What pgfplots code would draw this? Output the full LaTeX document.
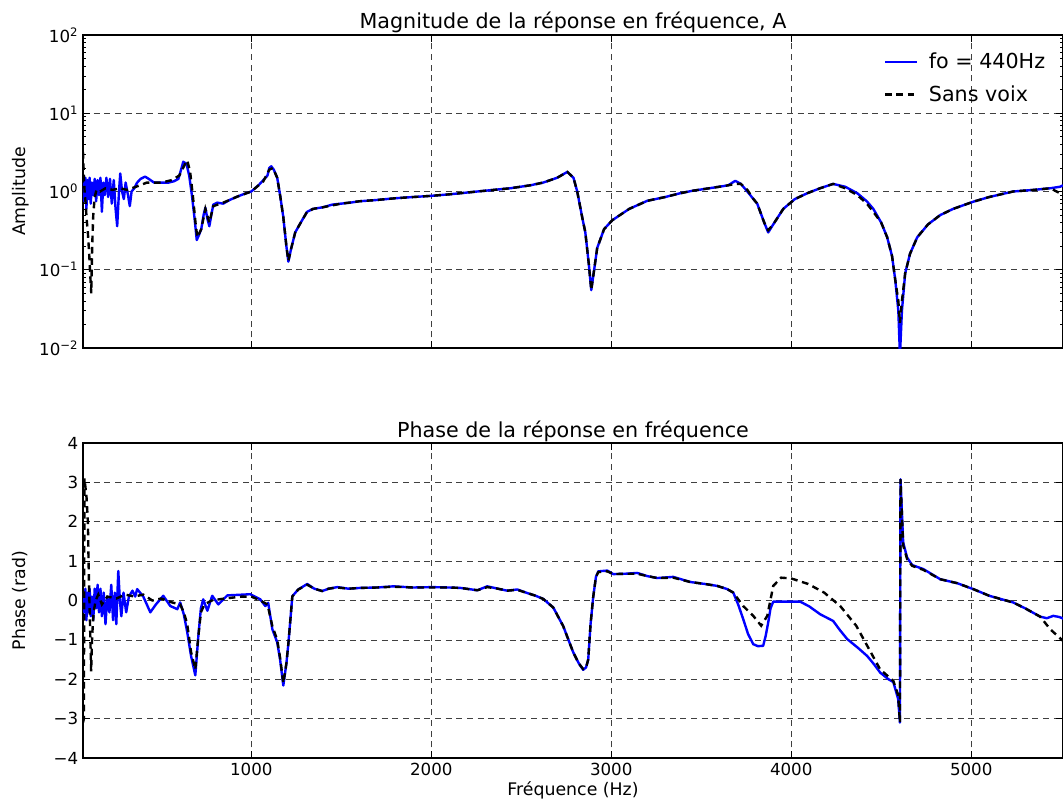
\documentclass[border=0pt]{standalone}
\usepackage{fontspec}
\setmainfont{DejaVu Sans}
\usepackage{pgfplots}
\pgfplotsset{compat=1.18}

% frequency response, blue = fo 440 Hz, black dashed = unvoiced
\pgfplotstableread{
f A
65 1.3
72 0.75
78 1.5
84 0.6
90 1.4
96 0.8
102 1.5
108 0.7
115 1.3
122 0.9
130 1.45
138 0.75
146 1.4
154 0.9
162 1.5
170 0.55
178 1.3
186 0.9
195 1.5
205 0.85
215 1.45
225 0.7
236 1.4
246 0.6
255 0.36
265 1.0
272 1.7
282 1.0
292 0.8
302 1.3
315 0.9
325 0.65
335 1.0
350 1.1
366 1.3
385 1.45
410 1.55
430 1.45
460 1.3
500 1.3
540 1.3
570 1.35
595 1.45
610 1.9
622 2.4
640 2.25
655 1.6
670 0.9
685 0.45
697 0.24
710 0.28
722 0.33
735 0.5
745 0.62
756 0.45
767 0.36
778 0.5
789 0.68
810 0.72
844 0.7
880 0.78
922 0.86
960 0.93
1000 1.0
1040 1.2
1067 1.4
1090 1.6
1100 2.0
1111 2.1
1125 1.9
1144 1.5
1160 0.9
1178 0.47
1195 0.2
1206 0.127
1220 0.18
1244 0.3
1280 0.42
1310 0.55
1344 0.6
1400 0.63
1450 0.68
1500 0.7
1550 0.72
1600 0.75
1700 0.78
1800 0.82
1900 0.85
2000 0.88
2100 0.92
2200 0.97
2256 1.0
2350 1.05
2439 1.1
2550 1.2
2622 1.3
2700 1.5
2756 1.78
2790 1.5
2811 1.0
2840 0.45
2856 0.3
2875 0.12
2889 0.055
2905 0.1
2922 0.19
2960 0.33
3006 0.43
3100 0.6
3200 0.76
3300 0.85
3383 0.95
3450 1.02
3533 1.09
3600 1.15
3650 1.2
3689 1.37
3720 1.25
3756 1.0
3790 0.8
3811 0.7
3850 0.4
3872 0.3
3900 0.38
3956 0.6
4020 0.8
4089 0.95
4160 1.1
4233 1.25
4300 1.15
4367 0.95
4420 0.75
4456 0.6
4500 0.4
4533 0.26
4560 0.15
4578 0.074
4595 0.03
4604 0.008
4615 0.03
4633 0.09
4660 0.16
4700 0.26
4760 0.38
4828 0.5
4900 0.6
5011 0.74
5100 0.85
5233 1.0
5350 1.05
5439 1.1
5494 1.15
5510 1.2
}\magvoix

\pgfplotstableread{
f A
65 3.2
70 1.5
75 0.9
80 0.7
85 0.45
92 0.3
100 0.15
106 0.08
111 0.05
116 0.2
122 0.5
130 0.85
140 1.05
160 1.0
190 1.1
230 1.05
270 1.1
310 1.05
360 1.15
420 1.3
500 1.3
560 1.4
600 1.6
630 2.2
644 2.5
660 1.8
675 0.9
690 0.4
700 0.26
722 0.33
745 0.6
767 0.4
789 0.65
844 0.72
922 0.86
1000 1.0
1067 1.35
1100 1.9
1120 2.0
1144 1.5
1160 0.9
1178 0.47
1195 0.2
1206 0.13
1220 0.18
1244 0.3
1280 0.42
1310 0.55
1344 0.6
1400 0.63
1500 0.7
1600 0.75
1700 0.78
1800 0.82
1900 0.85
2000 0.88
2100 0.92
2200 0.97
2256 1.0
2350 1.05
2439 1.1
2550 1.2
2622 1.3
2700 1.5
2756 1.78
2790 1.5
2811 1.0
2840 0.45
2856 0.3
2875 0.12
2889 0.055
2905 0.1
2922 0.19
2960 0.33
3006 0.43
3100 0.6
3200 0.76
3300 0.85
3383 0.95
3450 1.02
3533 1.09
3600 1.15
3650 1.2
3689 1.25
3720 1.25
3756 1.05
3790 0.8
3811 0.7
3850 0.4
3872 0.32
3900 0.38
3956 0.6
4020 0.8
4089 0.95
4160 1.1
4233 1.25
4300 1.1
4367 0.9
4420 0.7
4456 0.55
4500 0.4
4533 0.26
4560 0.15
4578 0.074
4595 0.04
4604 0.021
4615 0.04
4633 0.09
4660 0.16
4700 0.26
4760 0.38
4828 0.5
4900 0.6
5011 0.74
5100 0.85
5233 1.0
5350 1.05
5439 1.1
5494 0.95
5510 0.92
}\magsans

\pgfplotstableread{
f p
65 0.2
72 -0.3
78 0.3
84 -0.5
90 0.2
96 -0.3
102 0.3
108 -0.4
115 0.1
122 -0.5
130 0.3
138 -0.2
146 0.4
154 -0.3
162 0.3
170 -0.4
180 0.2
190 -0.6
200 0.1
212 -0.3
222 0.4
232 -0.5
242 0.2
250 -0.6
261 0.75
270 0.0
278 -0.4
290 0.2
305 -0.3
320 0.1
340 0.25
355 0.1
366 0.29
400 0.1
439 -0.3
470 -0.1
511 0.12
550 -0.14
589 -0.22
605 -0.05
625 -0.35
644 -0.8
665 -1.4
689 -1.9
706 -0.9
720 -0.2
733 0.03
756 -0.26
783 0.12
817 -0.1
867 0.13
956 0.15
994 0.16
1050 0.03
1078 -0.14
1094 -0.06
1117 -0.73
1144 -1.06
1160 -1.5
1178 -2.16
1195 -1.6
1206 -1.1
1228 0.11
1261 0.28
1311 0.42
1350 0.3
1394 0.24
1430 0.3
1478 0.34
1540 0.3
1606 0.32
1700 0.33
1789 0.36
1900 0.33
2006 0.34
2100 0.33
2161 0.32
2256 0.26
2311 0.36
2370 0.3
2422 0.25
2478 0.28
2533 0.19
2580 0.12
2622 0.04
2678 -0.18
2733 -0.65
2789 -1.32
2820 -1.6
2844 -1.76
2860 -1.7
2872 -1.5
2885 -0.6
2900 0.1
2915 0.6
2928 0.74
2978 0.76
3011 0.67
3080 0.68
3144 0.7
3200 0.62
3256 0.57
3344 0.6
3439 0.47
3520 0.42
3589 0.37
3644 0.29
3678 0.2
3705 -0.1
3733 -0.47
3760 -0.85
3789 -1.11
3815 -1.16
3844 -1.15
3858 -0.9
3872 -0.56
3885 -0.2
3900 -0.03
3978 -0.03
4050 -0.03
4100 -0.15
4161 -0.35
4233 -0.52
4270 -0.75
4311 -0.98
4370 -1.2
4422 -1.41
4460 -1.62
4494 -1.83
4540 -2.0
4567 -2.07
4594 -2.5
4604 -3.1
4607 3.08
4622 1.47
4644 1.09
4672 0.9
4733 0.8
4828 0.54
4922 0.44
5011 0.29
5100 0.12
5233 -0.05
5300 -0.2
5383 -0.41
5420 -0.45
5456 -0.39
5490 -0.42
5511 -0.46
}\phavoix

\pgfplotstableread{
f p
65 -3.1
70 -3.0
73 3.1
78 2.9
85 2.6
92 2.0
98 0.5
104 -0.6
110 -1.8
116 -0.9
124 -0.3
135 0.0
150 0.15
170 -0.1
200 0.1
250 0.05
300 0.15
350 0.1
400 0.15
450 0.0
500 0.05
560 -0.05
605 -0.1
625 -0.3
644 -0.6
665 -1.3
689 -1.75
706 -0.9
720 -0.3
740 -0.1
780 0.0
850 0.05
950 0.1
1000 0.1
1050 0.0
1090 -0.1
1117 -0.65
1144 -1.0
1160 -1.45
1178 -2.1
1195 -1.6
1206 -1.1
1228 0.1
1261 0.28
1311 0.4
1350 0.3
1394 0.24
1430 0.3
1478 0.33
1540 0.3
1606 0.32
1700 0.33
1789 0.35
1900 0.33
2006 0.33
2100 0.33
2161 0.32
2256 0.26
2311 0.34
2370 0.3
2422 0.25
2478 0.27
2533 0.19
2580 0.12
2622 0.04
2678 -0.18
2733 -0.65
2789 -1.32
2820 -1.6
2844 -1.74
2860 -1.7
2872 -1.5
2885 -0.6
2900 0.1
2915 0.6
2928 0.72
2978 0.74
3011 0.67
3080 0.68
3144 0.68
3200 0.62
3256 0.57
3344 0.58
3439 0.47
3520 0.42
3589 0.37
3644 0.29
3678 0.2
3733 -0.14
3789 -0.39
3833 -0.64
3867 -0.39
3900 0.37
3944 0.58
4000 0.56
4094 0.42
4183 0.2
4272 -0.14
4361 -0.64
4433 -1.24
4494 -1.75
4567 -2.04
4594 -2.4
4604 -3.1
4607 3.08
4622 1.4
4644 1.05
4672 0.88
4733 0.78
4828 0.54
4922 0.44
5011 0.29
5100 0.12
5233 -0.05
5300 -0.2
5383 -0.41
5439 -0.73
5511 -1.03
}\phasans

\begin{document}
\begin{tikzpicture}
\pgfplotsset{
  every axis/.append style={
    scale only axis,
    width=735pt,
    xmin=65, xmax=5510,
    xtick={1000,2000,3000,4000,5000},
    grid=major,
    major grid style={black!75, line width=0.5pt, dash pattern=on 4.5pt off 3.5pt},
    axis line style={line width=0.8pt},
    tick style={black, line width=0.5pt},
    major tick length=5pt,
    minor tick length=2.5pt,
    tick label style={font=\fontsize{12.5}{14}\selectfont},
    every axis title/.style={at={(0.5,1)}, anchor=base, yshift=4.5pt,
      font=\fontsize{15.5}{17}\selectfont},
    every axis y label/.style={at={([xshift=-47pt]axis description cs:0,0.5)},
      anchor=center, rotate=90, font=\fontsize{13}{15}\selectfont},
    every axis x label/.style={at={([yshift=-24pt]axis description cs:0.5,0)},
      anchor=center, font=\fontsize{13}{15}\selectfont},
    clip=true,
  },
  voix/.style={blue, line width=1.8pt, line join=round},
  sans/.style={black, line width=1.8pt, dash pattern=on 5pt off 3.5pt},
}

\begin{axis}[
  name=top,
  height=234.75pt,
  ymode=log,
  ymin=0.01, ymax=100,
  ytick={0.01,0.1,1,10,100},
  yticklabels={10\textsuperscript{−2},10\textsuperscript{−1},10\textsuperscript{0},10\textsuperscript{1},10\textsuperscript{2}},
  xticklabels={},
  title={Magnitude de la réponse en fréquence, A},
  ylabel={Amplitude},
  legend style={at={(0.997,0.96)}, anchor=north east, draw=none, fill=none,
    font=\fontsize{15.5}{19}\selectfont, row sep=7pt,
    nodes={inner xsep=8pt}},
  legend cell align=left,
  legend image code/.code={\draw[#1, line width=1.8pt] (0pt,0pt) -- (24pt,0pt);},
]
\addplot[voix] table[x=f, y=A] {\magvoix};
\addplot[sans] table[x=f, y=A] {\magsans};
\legend{fo = 440Hz, Sans voix}
\end{axis}

\begin{axis}[
  name=bot,
  at={(top.south west)}, anchor=north west, yshift=-71.25pt,
  height=236.25pt,
  ymin=-4, ymax=4,
  ytick={-4,-3,-2,-1,0,1,2,3,4},
  yticklabels={−4,−3,−2,−1,0,1,2,3,4},
  xticklabels={1000,2000,3000,4000,5000},
  title={Phase de la réponse en fréquence},
  ylabel={Phase (rad)},
  xlabel={Fréquence (Hz)},
]
\addplot[voix] table[x=f, y=p] {\phavoix};
\addplot[sans] table[x=f, y=p] {\phasans};
\end{axis}

\pgfresetboundingbox
\path ([shift={(-62.25pt,26.25pt)}]top.north west) rectangle ([shift={(735pt,-577.5pt)}]top.north west);
\end{tikzpicture}
\end{document}
